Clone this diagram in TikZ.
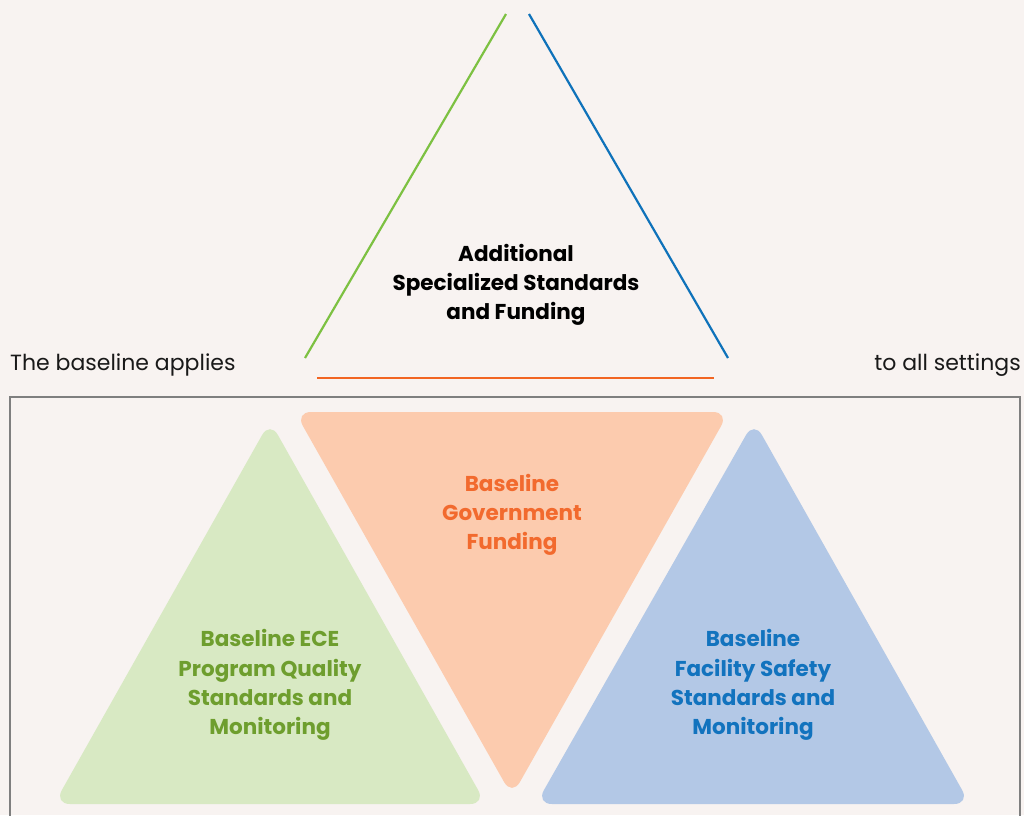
\documentclass[tikz,border=0pt]{standalone}
\usepackage{fontspec}
\setmainfont{Poppins}
\definecolor{bgpaper}{HTML}{F8F3F1}
\definecolor{leafline}{HTML}{7DC142}
\definecolor{skyline}{HTML}{0F72BA}
\definecolor{emberline}{HTML}{F26522}
\definecolor{leaffill}{HTML}{D8E9C3}
\definecolor{emberfill}{HTML}{FCCBAE}
\definecolor{skyfill}{HTML}{B3C8E6}
\definecolor{leaftext}{HTML}{6E9E2E}
\definecolor{embertext}{HTML}{F26A2E}
\definecolor{skytext}{HTML}{1273BE}
\definecolor{frame}{HTML}{7F7F7F}
\tikzset{
  px/.style={x=1pt,y=-1pt},
  label/.style={font=\fontsize{21.5}{29.3}\selectfont\bfseries, align=center, inner sep=0pt},
  plain/.style={font=\fontsize{22}{29}\selectfont, inner sep=0pt},
  piece/.style={rounded corners=16pt, draw=none},
  edge/.style={line width=2.2pt}
}
\begin{document}
\begin{tikzpicture}[px]
  \fill[bgpaper] (0,0) rectangle (1024,815);
  \useasboundingbox (0,0) rectangle (1024,815);

  % open triangle on top
  \coordinate (gl) at (305,358);
  \coordinate (gt) at (506,14);
  \coordinate (bt) at (529,14);
  \coordinate (br) at (728,358);
  \coordinate (ol) at (317,378);
  \coordinate (or) at (714,378);
  \draw[edge, leafline] (gl) -- (gt);
  \draw[edge, skyline] (bt) -- (br);
  \draw[edge, emberline] (ol) -- (or);
  \node[label, text=black] (extra) at (516,285) {Additional\\Specialized Standards\\and Funding};

  \node[plain, anchor=west, text=black!90] (leftnote) at (10,365) {The baseline applies};
  \node[plain, anchor=east, text=black!90] (rightnote) at (1021,365) {to all settings};

  % frame around the baseline
  \draw[frame, line width=1.3pt] (10,830) -- (10,397) -- (1020,397) -- (1020,830);

  % the three baseline pieces
  \fill[piece, leaffill] (270,421) -- (486,804) -- (54,804) -- cycle;
  \fill[piece, emberfill] (295,412) -- (729,412) -- (512,796) -- cycle;
  \fill[piece, skyfill] (754,421) -- (970,804) -- (536,804) -- cycle;

  \node[label, text=leaftext] (ece) at (270,685) {Baseline ECE\\Program Quality\\Standards and\\Monitoring};
  \node[label, text=embertext] (fund) at (512,515) {Baseline\\Government\\Funding};
  \node[label, text=skytext] (safety) at (753,685) {Baseline\\Facility Safety\\Standards and\\Monitoring};
\end{tikzpicture}
\end{document}
